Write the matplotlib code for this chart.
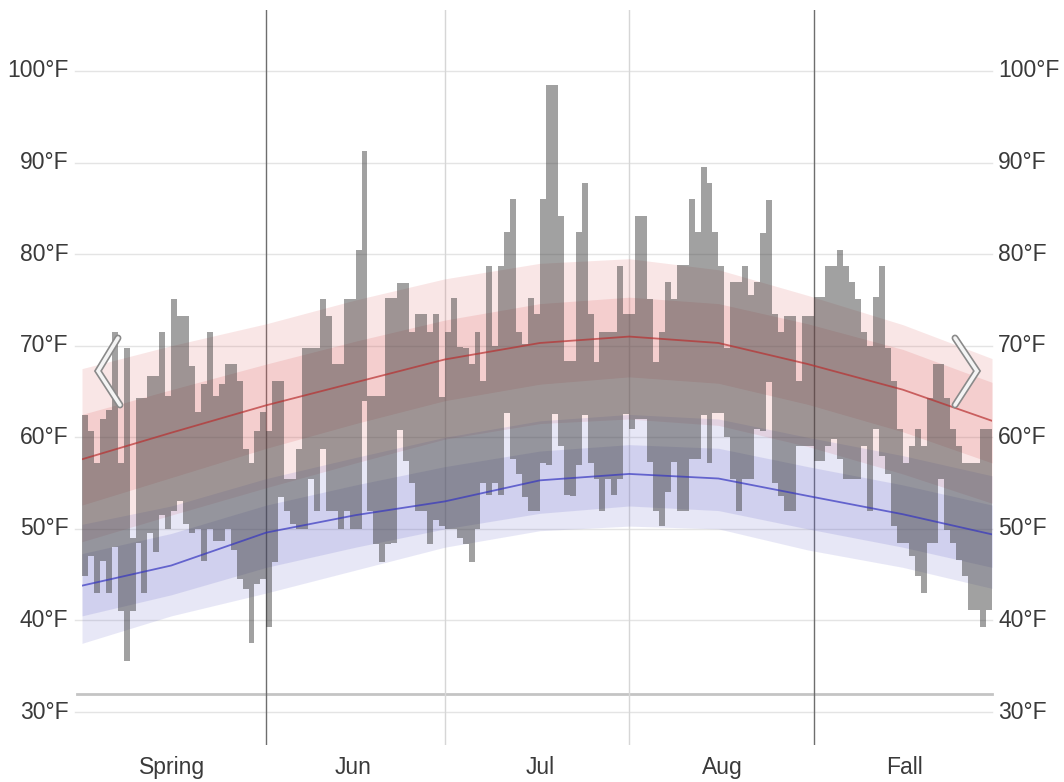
import matplotlib.pyplot as plt
import matplotlib.transforms as mtransforms
from matplotlib.lines import Line2D

# daily high / low temperatures (F), May 1 .. Sep 30
highs = [62.4, 60.7, 57.2, 62.0, 63.0, 71.5, 57.2, 69.8, 49.0, 64.3,
         64.3, 66.7, 66.7, 71.5, 64.5, 75.1, 73.3, 73.3, 67.8, 62.8,
         65.8, 71.5, 64.5, 65.8, 68.0, 68.0, 66.1, 58.7, 57.2, 60.7,
         62.8, 60.7, 66.1, 66.1, 55.5, 55.5, 58.7, 69.8, 69.8, 69.8,
         75.1, 73.3, 68.0, 68.0, 75.1, 75.1, 80.4, 91.3, 64.5, 64.5,
         64.5, 75.2, 75.2, 76.9, 76.9, 71.5, 73.5, 73.5, 71.5, 73.5,
         64.4, 71.5, 75.2, 69.9, 69.8, 68.0, 71.5, 66.2, 78.7, 70.0,
         78.7, 82.4, 86.0, 71.5, 70.2, 75.2, 73.5, 86.0, 98.5, 98.5,
         84.2, 68.3, 68.3, 82.4, 87.8, 73.5, 68.2, 71.5, 71.5, 71.5,
         78.7, 73.5, 73.5, 84.2, 84.2, 75.1, 68.2, 71.5, 77.0, 75.1,
         78.8, 78.8, 86.0, 82.4, 89.5, 87.8, 82.4, 78.7, 69.8, 77.0,
         77.0, 78.7, 75.5, 77.0, 82.3, 85.9, 73.5, 71.5, 73.3, 73.3,
         66.1, 73.3, 73.3, 75.3, 75.3, 78.7, 78.7, 80.5, 78.7, 77.0,
         75.1, 71.5, 70.0, 75.3, 78.7, 69.8, 66.2, 60.9, 57.2, 59.1,
         60.9, 59.1, 64.3, 68.0, 68.0, 64.3, 60.9, 59.1, 57.2, 57.2,
         57.2, 60.9, 60.9]
lows = [44.8, 47.0, 43.0, 46.5, 43.0, 48.0, 41.0, 35.6, 41.0, 48.5,
        43.0, 49.5, 47.5, 51.5, 50.0, 52.0, 53.0, 50.5, 49.5, 50.0,
        46.5, 50.0, 48.7, 48.7, 50.0, 47.7, 44.5, 43.4, 37.5, 44.0,
        44.5, 39.3, 46.4, 53.5, 52.0, 50.5, 50.0, 50.0, 55.5, 52.0,
        58.7, 52.0, 52.0, 50.0, 52.0, 50.0, 50.0, 64.0, 52.0, 48.3,
        46.4, 48.3, 48.5, 60.8, 57.4, 55.0, 52.0, 52.0, 48.4, 51.0,
        50.3, 50.0, 50.0, 49.0, 48.4, 46.4, 50.0, 55.0, 53.7, 55.0,
        53.7, 62.7, 57.6, 56.0, 53.5, 52.0, 52.0, 57.2, 57.0, 62.5,
        59.1, 53.7, 53.6, 57.0, 62.4, 57.2, 55.5, 52.0, 55.4, 53.7,
        55.5, 62.5, 60.9, 62.0, 62.0, 57.3, 52.0, 50.3, 54.0, 57.3,
        52.0, 52.0, 57.6, 57.6, 62.4, 57.2, 62.6, 62.6, 60.0, 55.4,
        52.0, 55.4, 55.4, 60.9, 60.7, 66.0, 55.0, 53.6, 52.0, 52.0,
        59.0, 59.0, 59.0, 57.4, 57.4, 59.0, 59.8, 57.6, 55.4, 55.4,
        55.4, 59.0, 52.0, 60.9, 58.0, 56.0, 50.3, 48.5, 48.5, 47.0,
        44.8, 43.0, 48.5, 48.5, 55.4, 49.9, 48.5, 46.6, 44.8, 41.1,
        41.1, 39.3, 41.1]

# climatology bands (percentiles of daily high / low)
band_days = [0, 15, 31, 46, 61, 77, 92, 107, 122, 138, 153]
high_p90 = [67.5, 70.0, 72.4, 75.0, 77.3, 79.0, 79.5, 78.3, 75.5, 72.3, 68.6]
high_p75 = [62.5, 65.2, 68.0, 70.5, 72.8, 74.6, 75.3, 74.6, 72.4, 69.6, 66.0]
high_avg = [57.6, 60.5, 63.5, 66.0, 68.5, 70.3, 71.0, 70.3, 68.0, 65.2, 61.8]
high_p25 = [52.6, 55.6, 58.8, 61.5, 64.0, 65.8, 66.6, 65.9, 63.6, 60.6, 57.2]
high_p10 = [48.6, 51.5, 54.5, 57.2, 59.8, 61.5, 62.0, 61.3, 59.0, 56.0, 52.8]
low_p90 = [50.5, 52.5, 55.5, 57.8, 60.0, 61.8, 62.5, 62.0, 60.0, 58.0, 55.8]
low_p75 = [47.3, 49.5, 52.6, 54.8, 56.8, 58.5, 59.2, 58.8, 56.8, 54.8, 52.6]
low_avg = [43.8, 46.0, 49.6, 51.5, 53.0, 55.3, 56.0, 55.5, 53.6, 51.6, 49.4]
low_p25 = [40.5, 42.8, 45.8, 48.0, 50.0, 51.7, 52.5, 52.0, 50.0, 48.0, 45.8]
low_p10 = [37.5, 40.5, 43.0, 45.5, 48.0, 49.8, 50.3, 50.0, 47.7, 45.8, 43.5]

month_pos = [15.1, 45.5, 77.0, 107.7, 138.3]
month_labels = ['Spring', 'Jun', 'Jul', 'Aug', 'Fall']
temp_ticks = [30, 40, 50, 60, 70, 80, 90, 100]

plt.rcParams['font.family'] = ['Liberation Sans', 'DejaVu Sans']

W, H = 1064, 782
fig = plt.figure(figsize=(W / 100, H / 100), dpi=100)
ax = fig.add_axes([82 / W, (H - 745) / H, 910 / W, 735 / H])
ax.set_xlim(0, 153)
ax.set_ylim(26.4, 106.66)
for s in ax.spines.values():
    s.set_visible(False)

# grid
for t in temp_ticks:
    ax.axhline(t, xmin=-0.008, color='#e4e4e4', lw=1, zorder=0, clip_on=False)
ax.axhline(32, xmin=-0.005, color='#c4c4c4', lw=2, zorder=0.5, clip_on=False)
for d in [61, 92]:
    ax.axvline(d, color='#d6d6d6', lw=1, zorder=0.5)
for d in [31, 123]:
    ax.axvline(d, color='#6e6e6e', lw=1, zorder=0.5)

# bands
ax.fill_between(band_days, high_p10, high_p90, color='#dc5a5a', alpha=0.15, lw=0, zorder=1)
ax.fill_between(band_days, high_p25, high_p75, color='#dc5a5a', alpha=0.17, lw=0, zorder=1)
ax.fill_between(band_days, low_p10, low_p90, color='#6464c8', alpha=0.15, lw=0, zorder=1)
ax.fill_between(band_days, low_p25, low_p75, color='#6464c8', alpha=0.17, lw=0, zorder=1)

# daily range bars
days = list(range(len(highs)))
heights = [h - l for h, l in zip(highs, lows)]
ax.bar(days, heights, bottom=lows, width=1.0, align='edge',
       color='#3c3c3c', alpha=0.48, lw=0, zorder=2)

ax.plot(band_days, high_avg, color='#b83030', lw=1.3, alpha=0.7, zorder=3)
ax.plot(band_days, low_avg, color='#3535c0', lw=1.3, alpha=0.7, zorder=3)

# axis labels
ax.set_xticks(month_pos)
ax.set_xticklabels(month_labels)
ax.set_yticks([])
ax.tick_params(axis='x', length=0, pad=8, labelsize=16.5, labelcolor='#3a3a3a')
trans = mtransforms.blended_transform_factory(ax.transAxes, ax.transData)
for t in temp_ticks:
    ax.text(-0.015, t, f'{t}°F', transform=trans, ha='right', va='center',
            fontsize=16.5, color='#3a3a3a')
    ax.text(1.007, t, f'{t}°F', transform=trans, ha='left', va='center',
            fontsize=16.5, color='#3a3a3a')

# navigation chevrons
for pts in ([(118, 338), (98, 371), (120, 405)], [(955, 338), (977, 371), (955, 405)]):
    xs = [p[0] / W for p in pts]
    ys = [1 - p[1] / H for p in pts]
    fig.add_artist(Line2D(xs, ys, transform=fig.transFigure, color='#8a8a8a', lw=5,
                          solid_capstyle='round', solid_joinstyle='miter', zorder=5))
    fig.add_artist(Line2D(xs, ys, transform=fig.transFigure, color='#f4f4f4', lw=2.6,
                          solid_capstyle='round', solid_joinstyle='miter', zorder=6))

fig.savefig('out.png', dpi=100)
